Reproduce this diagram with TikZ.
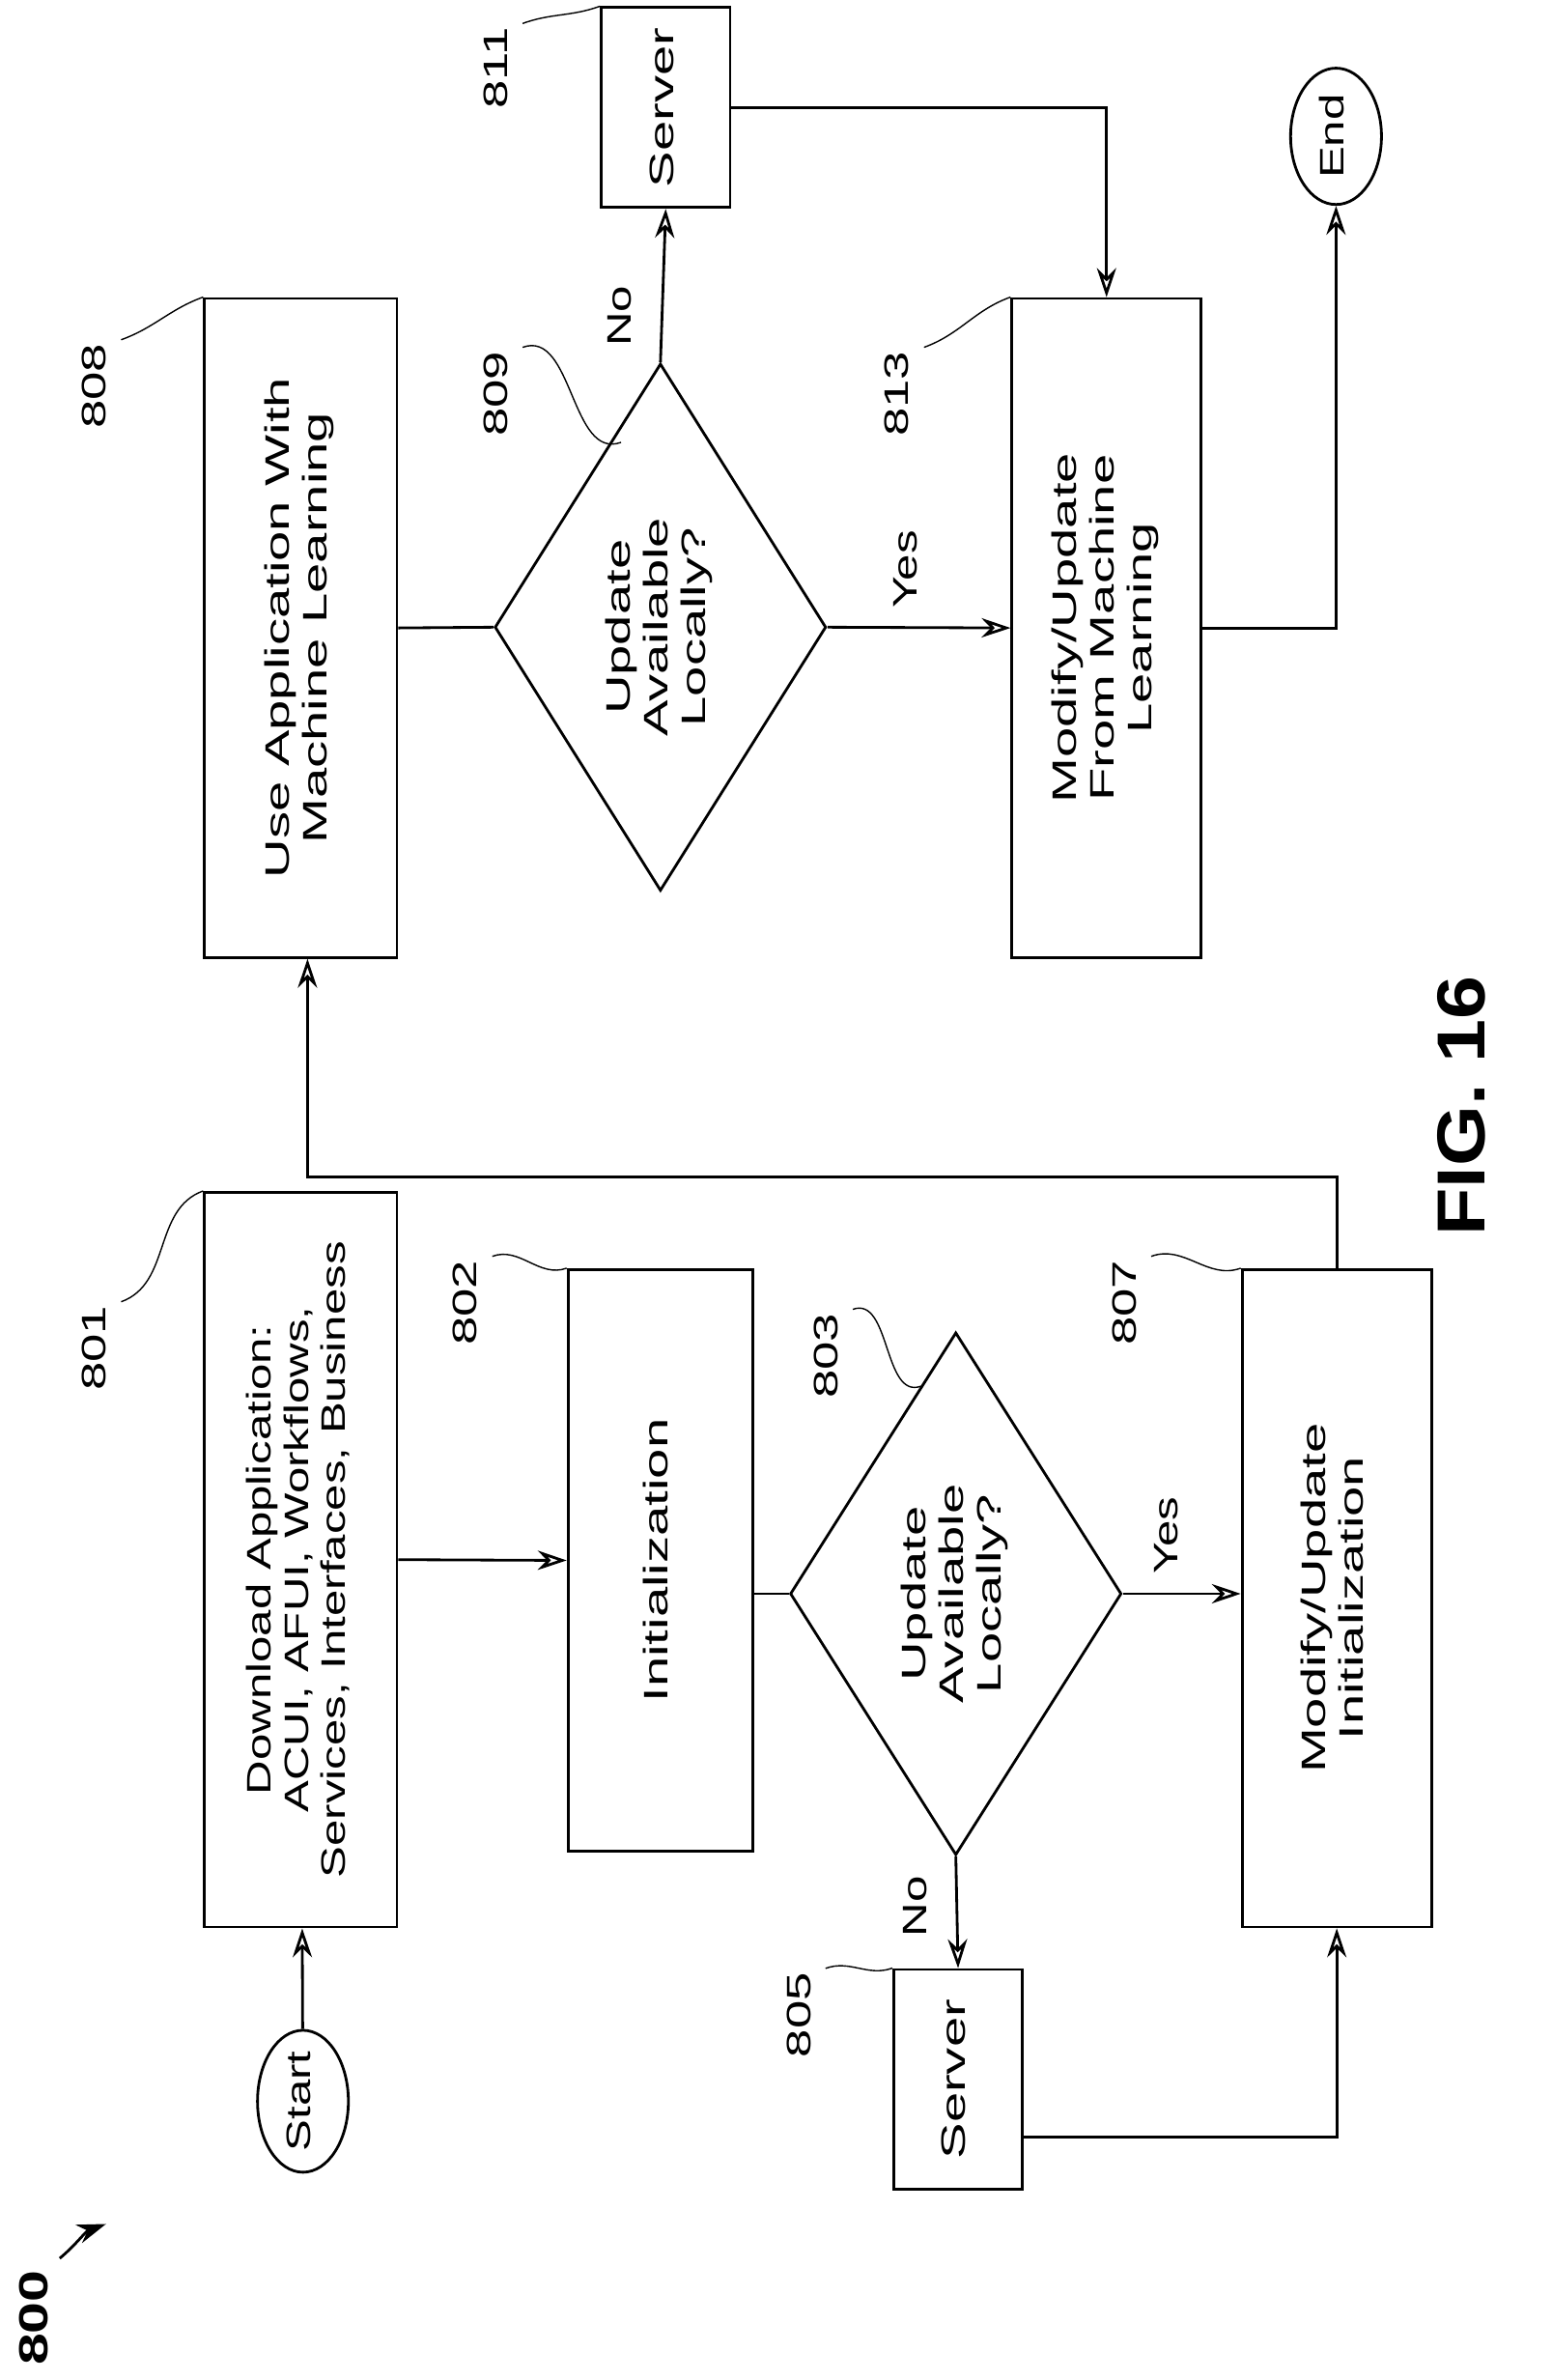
\documentclass[tikz,border=0pt]{standalone}
\usepackage{fontspec}
\setmainfont{Liberation Sans}
\usetikzlibrary{shapes.geometric,arrows.meta}
\def\px{0.01568cm}
\newcommand{\rtext}[2][1.6]{\rotatebox{90}{\scalebox{#1}[1]{\fontsize{10}{11}\selectfont\begin{tabular}{@{}c@{}}#2\end{tabular}}}}
\tikzset{
	box/.style={draw,thick,rectangle,inner sep=0pt},
	dec/.style={draw,thick,diamond,inner sep=0pt},
	term/.style={draw,thick,ellipse,inner sep=0pt},
	flow/.style={thick,-{Stealth[length=3mm,width=2mm,open]}},
	lead/.style={thin},
	ref/.style={inner sep=1pt}
}
\begin{document}
\begin{tikzpicture}[x=0.01568cm,y=-0.01568cm]
	\useasboundingbox (0,0) rectangle (1024,1571);
	%TERMINALS
	\node[term,minimum width=60*\px,minimum height=85*\px] (start) at (200,1387) {\rtext[1.4]{Start}};
	\node[term,minimum width=60*\px,minimum height=90*\px] (end) at (882,90) {\rtext[1.4]{End}};
	%BOXES
	\node[box,minimum width=127*\px,minimum height=485*\px] (b801) at (198.5,1029.5) {\rtext[1.4]{Download Application:\\ACUI, AFUI, Workflows,\\Services, Interfaces, Business}};
	\node[box,minimum width=122*\px,minimum height=384*\px] (b802) at (436,1030) {\rtext{Initialization}};
	\node[dec,minimum width=148*\px,minimum height=345*\px] (d803) at (631,1052) {\rtext{Update\\Available\\Locally?}};
	\node[box,minimum width=85*\px,minimum height=145*\px] (s805) at (632.5,1372.5) {\rtext{Server}};
	\node[box,minimum width=125*\px,minimum height=434*\px] (b807) at (882.5,1055) {\rtext{Modify/Update\\Initialization}};
	\node[box,minimum width=127*\px,minimum height=435*\px] (b808) at (198.5,414.5) {\rtext{Use Application With\\Machine Learning}};
	\node[dec,minimum width=148*\px,minimum height=348*\px] (d809) at (436,414) {\rtext{Update\\Available\\Locally?}};
	\node[box,minimum width=85*\px,minimum height=132*\px] (s811) at (439.5,71) {\rtext{Server}};
	\node[box,minimum width=125*\px,minimum height=435*\px] (b813) at (730.5,414.5) {\rtext{Modify/Update\\From Machine\\Learning}};
	\coordinate (turn) at (203,777);
	%CONNECTORS
	\draw[flow] (start) -- (b801);
	\draw[flow] (b801.east) -- (b802.west);
	\draw[thick] (d803.west -| b802.east) -- (d803.west);
	\draw[flow] (d803.south) -- node[pos=0.45,left=2pt]{\rtext[1.4]{No}} (s805.north);
	\draw[flow] (d803.east) -- node[pos=0.4,above=2pt]{\rtext[1.4]{Yes}} (d803.east -| b807.west);
	\draw[flow] ([yshift=-0.6cm]s805.east) -| (b807.south);
	\draw[flow] (b807.north) -- (b807.north |- turn) -- (turn) -- (turn |- b808.south);
	\draw[thick] (b808.east) -- (d809.west);
	\draw[flow] (d809.north) -- node[pos=0.3,left=2pt]{\rtext[1.4]{No}} (s811.south);
	\draw[flow] (d809.east) -- node[pos=0.45,above=2pt]{\rtext[1.4]{Yes}} (b813.west);
	\draw[flow] (s811.east) -| (b813.north);
	\draw[flow] (b813.east) -| (end.south);
	%REFERENCE NUMBERS
	\node[ref] (n801) at (65,890) {\rtext[1.5]{801}};
	\draw[lead] (n801.north east) to[out=20,in=200] (b801.north west);
	\node[ref] (n802) at (310,860) {\rtext[1.5]{802}};
	\draw[lead] (n802.north east) to[out=20,in=200] (b802.north west);
	\node[ref] (n803) at (548,895) {\rtext[1.5]{803}};
	\draw[lead] (n803.north east) to[out=20,in=200] (608,915);
	\node[ref] (n805) at (530,1330) {\rtext[1.5]{805}};
	\draw[lead] (n805.north east) to[out=20,in=200] (s805.north west);
	\node[ref] (n807) at (745,860) {\rtext[1.5]{807}};
	\draw[lead] (n807.north east) to[out=20,in=200] (b807.north west);
	\node[ref] (n808) at (65,255) {\rtext[1.5]{808}};
	\draw[lead] (n808.north east) to[out=20,in=200] (b808.north west);
	\node[ref] (n809) at (330,260) {\rtext[1.5]{809}};
	\draw[lead] (n809.north east) to[out=20,in=200] (410,292);
	\node[ref] (n811) at (330,45) {\rtext[1.5]{811}};
	\draw[lead] (n811.north east) to[out=20,in=200] (s811.north west);
	\node[ref] (n813) at (595,260) {\rtext[1.5]{813}};
	\draw[lead] (n813.north east) to[out=20,in=200] (b813.north west);
	%FIGURE LABELS
	\node (n800) at (22,1530) {\rotatebox{90}{\scalebox{1.4}[1]{\fontsize{12}{12}\selectfont\bfseries 800}}};
	\draw[thick,-{Stealth[length=3mm,width=2mm]}] (n800.north east) to[out=40,in=200] (70,1468);
	\node (fig) at (965,730) {\rotatebox{90}{\scalebox{1.15}[1]{\fontsize{20}{20}\selectfont\bfseries FIG. 16}}};
\end{tikzpicture}
\end{document}
